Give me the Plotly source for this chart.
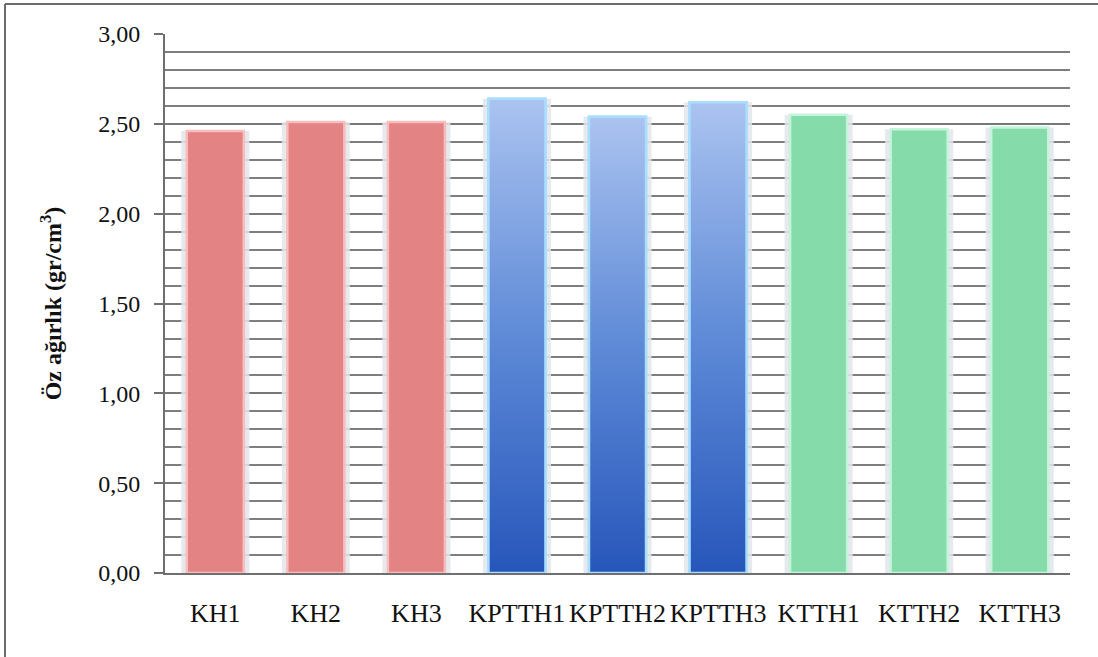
import plotly.graph_objects as go

# Specific gravity of the mixes
categories = ["KH1", "KH2", "KH3", "KPTTH1", "KPTTH2", "KPTTH3", "KTTH1", "KTTH2", "KTTH3"]
values = [2.46, 2.51, 2.51, 2.64, 2.54, 2.62, 2.55, 2.47, 2.48]
groups = ["KH", "KH", "KH", "KPTTH", "KPTTH", "KPTTH", "KTTH", "KTTH", "KTTH"]

group_fill = {"KH": "#E38383", "KPTTH": "#5D89D6", "KTTH": "#86DBAA"}
group_edge = {"KH": "#F9BDBD", "KPTTH": "#A9DEFF", "KTTH": "#C4F5DC"}
blue_scale = [[0.0, "#2756BB"], [0.5, "#5E8AD7"], [1.0, "#ABC3F0"]]

W, H = 1098, 657
ML, MR, MT, MB = 165, 28, 34, 84
BAR_W = 0.567

xs = list(range(len(categories)))
fig = go.Figure()

# soft halo behind every bar
fig.add_trace(go.Bar(
    x=xs, y=values, width=BAR_W + 0.11,
    marker=dict(color="rgba(226,229,234,0.85)", line=dict(width=0)),
    hoverinfo="skip", showlegend=False,
))

# the bars themselves
fig.add_trace(go.Bar(
    x=xs, y=values, width=BAR_W,
    marker=dict(color=[group_fill[g] for g in groups],
                line=dict(color=[group_edge[g] for g in groups], width=2.5)),
    showlegend=False,
))

# vertical colour gradient on the KPTTH bars
for i, (g, v) in enumerate(zip(groups, values)):
    if g != "KPTTH":
        continue
    x0, x1 = i - BAR_W / 2, i + BAR_W / 2
    fig.add_trace(go.Scatter(
        x=[x0, x1, x1, x0, x0], y=[0, 0, v, v, 0],
        mode="lines", fill="toself",
        fillgradient=dict(type="vertical", colorscale=blue_scale, start=0, stop=v),
        line=dict(color=group_edge[g], width=2.5),
        hoverinfo="skip", showlegend=False,
    ))

plot_w = W - ML - MR
plot_h = H - MT - MB

def px_x(p):
    return (p - ML) / plot_w

def px_y(p):
    return (H - MB - p) / plot_h

frame = dict(color="#6B6B6B", width=2)
fig.add_shape(type="line", xref="paper", yref="paper",
              x0=px_x(5), x1=px_x(W), y0=px_y(4), y1=px_y(4), line=frame)
fig.add_shape(type="line", xref="paper", yref="paper",
              x0=px_x(5), x1=px_x(5), y0=px_y(4), y1=px_y(H), line=frame)

fig.update_layout(
    width=W, height=H,
    margin=dict(l=ML, r=MR, t=MT, b=MB),
    paper_bgcolor="white", plot_bgcolor="white",
    separators=",.",
    barmode="overlay",
    font=dict(family="Liberation Serif", color="#111111"),
    xaxis=dict(
        range=[-0.5, len(categories) - 0.5],
        tickmode="array", tickvals=xs, ticktext=categories,
        tickfont=dict(size=26),
        showgrid=False, zeroline=False,
        showline=True, linecolor="#6F6F6F", linewidth=2,
        ticks="", ticklabelstandoff=16,
    ),
    yaxis=dict(
        range=[0, 3], dtick=0.5, tick0=0, tickformat=".2f",
        tickfont=dict(size=24),
        showgrid=True, gridcolor="#787878", gridwidth=1.6,
        minor=dict(dtick=0.1, showgrid=True, gridcolor="#7E7E7E", gridwidth=1.5, ticks=""),
        zeroline=False,
        showline=True, linecolor="#6F6F6F", linewidth=2,
        ticks="outside", ticklen=9, tickcolor="#6F6F6F", tickwidth=2,
        ticklabelstandoff=9,
        title=dict(text="<b>Öz ağırlık (gr/cm<sup>3</sup>)</b>",
                   font=dict(size=24, family="Liberation Serif", color="#111111"),
                   standoff=30),
    ),
)

fig.write_html("out.html")
